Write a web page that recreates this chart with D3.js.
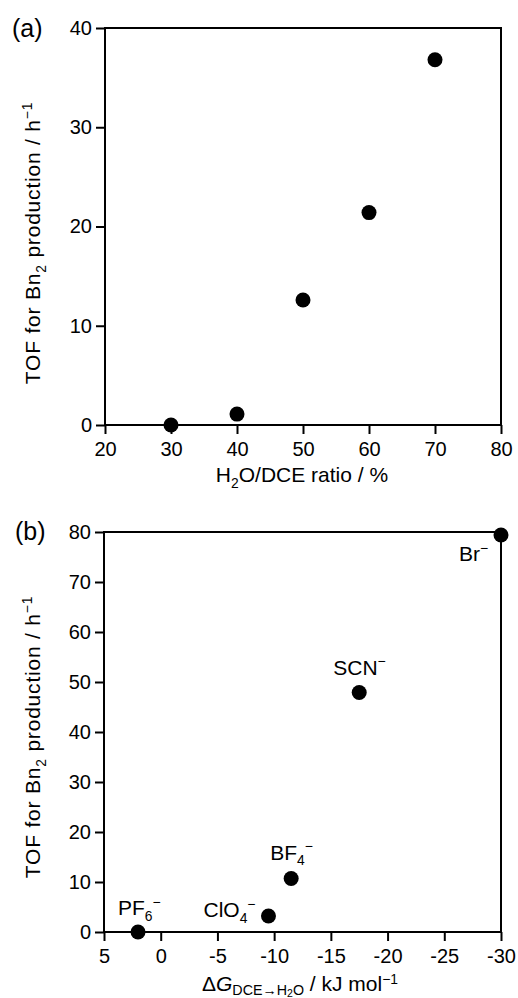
<!DOCTYPE html>
<html>
<head>
<meta charset="utf-8">
<script src="https://cdn.jsdelivr.net/npm/d3@7"></script>
<style>
  body { margin: 0; background: #fff; }
  svg { display: block; font-family: 'Liberation Sans', Arial, Helvetica, sans-serif; }
  .tick text { font-size: 20px; fill: #000; }
  .tick line { stroke: #000; stroke-width: 2; }
</style>
</head>
<body>
<svg id="chart" width="518" height="998"></svg>
<script>
'use strict';

// panel (a): TOF vs H2O/DCE ratio
var ratioPct = [30, 40, 50, 60, 70]
var tofRatio = [0, 1.1, 12.6, 21.4, 36.8]
var ratioTicks = [20, 30, 40, 50, 60, 70, 80]
var tofTicksA = [0, 10, 20, 30, 40]

// panel (b): TOF vs transfer free energy of the anion
var anions = ['PF6', 'ClO4', 'BF4', 'SCN', 'Br']
var dG = [2.0, -9.5, -11.5, -17.5, -30]
var tofAnion = [0, 3.2, 10.7, 47.9, 79.4]
var dGTicks = [5, 0, -5, -10, -15, -20, -25, -30]
var tofTicksB = [0, 10, 20, 30, 40, 50, 60, 70, 80]

// label pieces for each anion (sub = subscript, sup = superscript)
var anionLabels = {
  PF6: [{t: 'PF'}, {t: '6', sub: true}, {t: '\u2212', sup: true}],
  ClO4: [{t: 'ClO'}, {t: '4', sub: true}, {t: '\u2212', sup: true}],
  BF4: [{t: 'BF'}, {t: '4', sub: true}, {t: '\u2212', sup: true}],
  SCN: [{t: 'SCN'}, {t: '\u2212', sup: true}],
  Br: [{t: 'Br'}, {t: '\u2212', sup: true}]
}
// where the label text starts relative to its point (px)
var labelOffset = {
  PF6: [-20, -17],
  ClO4: [-65, 1],
  BF4: [-21, -19],
  SCN: [-26, -18],
  Br: [-42, 26]
}

var yTitle = [{t: 'TOF for Bn'}, {t: '2', sub: true}, {t: ' production / h'}, {t: '\u22121', sup: true}]

var svg = d3.select('#chart')

// writes text made of pieces, shifting sub/superscripts with dy
function rich(textSel, parts, fs) {
  var shift = 0
  parts.forEach(function(p) {
    var target = p.shift !== undefined ? p.shift : (p.sub ? 0.28 : (p.sup ? -0.4 : 0))
    var size = p.size || ((p.sub || p.sup) ? 0.66 : 1)
    var ts = textSel.append('tspan')
      .attr('dy', ((target - shift) * fs).toFixed(2))
      .style('font-size', (size * fs) + 'px')
      .text(p.t)
    if (p.italic) ts.style('font-style', 'italic')
    shift = target
  })
  return textSel
}

// plain hyphen for negatives, like the original figure
function tickFmt(d) {
  return String(d)
}

function panel(opts) {
  var x = d3.scaleLinear().domain(opts.xDomain).range(opts.xRange)
  var y = d3.scaleLinear().domain(opts.yDomain).range(opts.yRange)
  var g = svg.append('g')

  var xAxis = d3.axisBottom(x)
    .tickValues(opts.xTicks)
    .tickSize(9)
    .tickSizeOuter(0)
    .tickPadding(8)
    .tickFormat(tickFmt)
  var yAxis = d3.axisLeft(y)
    .tickValues(opts.yTicks)
    .tickSize(9)
    .tickSizeOuter(0)
    .tickPadding(4)
    .tickFormat(tickFmt)

  g.append('g')
    .attr('transform', 'translate(0,' + opts.yRange[0] + ')')
    .call(xAxis)
    .call(function(s) { s.select('.domain').remove() })
  g.append('g')
    .attr('transform', 'translate(' + opts.xRange[0] + ',0)')
    .call(yAxis)
    .call(function(s) { s.select('.domain').remove() })

  // closed frame
  g.append('rect')
    .attr('x', opts.xRange[0])
    .attr('y', opts.yRange[1])
    .attr('width', opts.xRange[1] - opts.xRange[0])
    .attr('height', opts.yRange[0] - opts.yRange[1])
    .attr('fill', 'none')
    .attr('stroke', '#000')
    .attr('stroke-width', 2)

  g.selectAll('circle.pt')
    .data(opts.xs)
    .enter().append('circle')
    .attr('class', 'pt')
    .attr('cx', function(d) { return x(d) })
    .attr('cy', function(d, i) { return y(opts.ys[i]) })
    .attr('r', 7.5)
    .attr('fill', '#000')

  // panel letter
  g.append('text')
    .attr('x', opts.letterPos[0])
    .attr('y', opts.letterPos[1])
    .style('font-size', '25px')
    .text(opts.letter)

  // y title
  rich(g.append('text')
    .attr('text-anchor', 'middle')
    .attr('transform', 'translate(40,' + opts.yTitleY + ') rotate(-90)')
    .style('font-size', '21px')
    .style('letter-spacing', '0.8px'), yTitle, 21)

  // x title
  rich(g.append('text')
    .attr('text-anchor', 'middle')
    .attr('x', opts.xTitleX)
    .attr('y', opts.xTitleY)
    .style('font-size', '21px'), opts.xTitle, 21)

  return {x: x, y: y, g: g}
}

panel({
  xDomain: [20, 80], xRange: [105, 501],
  yDomain: [0, 40], yRange: [425, 28],
  xTicks: ratioTicks, yTicks: tofTicksA,
  xs: ratioPct, ys: tofRatio,
  letter: '(a)', letterPos: [12, 37],
  yTitleY: 243,
  xTitleX: 302, xTitleY: 482,
  xTitle: [{t: 'H'}, {t: '2', sub: true}, {t: 'O/DCE ratio / %'}]
})

var pb = panel({
  xDomain: [5, -30], xRange: [104, 501],
  yDomain: [0, 80], yRange: [932, 532],
  xTicks: dGTicks, yTicks: tofTicksB,
  xs: dG, ys: tofAnion,
  letter: '(b)', letterPos: [15, 540],
  yTitleY: 737,
  xTitleX: 300, xTitleY: 991,
  xTitle: [
    {t: '\u0394'}, {t: 'G', italic: true},
    {t: 'DCE\u2192H', shift: 0.2, size: 0.68},
    {t: '2', shift: 0.28, size: 0.5},
    {t: 'O', shift: 0.2, size: 0.68},
    {t: ' / kJ mol', shift: 0},
    {t: '\u22121', shift: -0.34, size: 0.66}
  ]
})

// anion labels next to the points
anions.forEach(function(a, i) {
  var off = labelOffset[a]
  rich(pb.g.append('text')
    .attr('x', pb.x(dG[i]) + off[0])
    .attr('y', pb.y(tofAnion[i]) + off[1])
    .style('font-size', '21px'), anionLabels[a], 21)
})
</script>
</body>
</html>
